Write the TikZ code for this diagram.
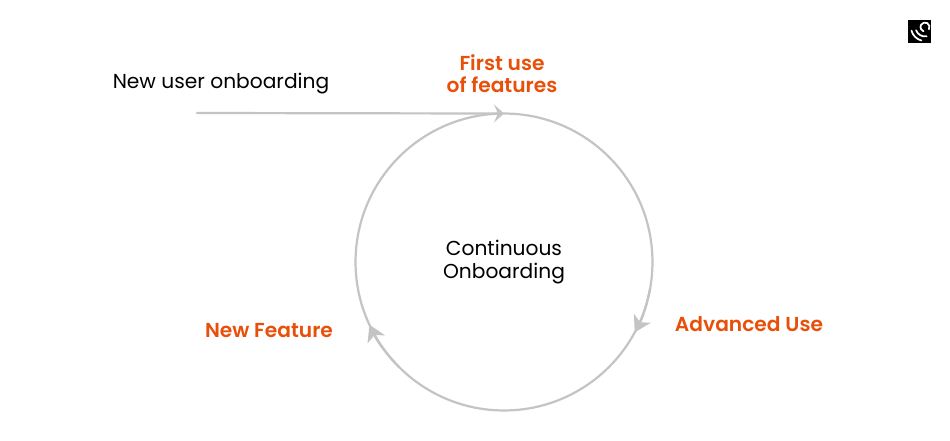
\documentclass[tikz,border=0pt]{standalone}
\usepackage{fontspec}
\setmainfont{Poppins}
\newfontfamily\semifont{Poppins SemiBold}
\usetikzlibrary{arrows.meta}
\definecolor{flowgray}{HTML}{C4C4C4}
\definecolor{labelorange}{HTML}{E8500A}
\tikzset{
  flow/.style={draw=flowgray,line width=1.25pt},
  tiplong/.style={-{Stealth[length=0.32cm,width=0.38cm,inset=0.09cm,fill=flowgray]}},
  tipshort/.style={-{Stealth[length=0.2cm,width=0.36cm,inset=0.08cm,fill=flowgray]}},
  plainlabel/.style={text=black,font=\fontsize{11.5}{13.6}\selectfont,align=center,inner sep=0pt},
  hotlabel/.style={text=labelorange,font=\fontsize{11.5}{12.5}\selectfont\semifont,align=center,inner sep=0pt}
}
\begin{document}
\begin{tikzpicture}[x=0.02cm,y=0.02cm,line join=round,line cap=round]
\useasboundingbox[fill=white] (0,0) rectangle (950,440);
% main loop
\node[circle,flow,minimum size=5.94cm,inner sep=0pt,outer sep=0pt,plainlabel] (loop) at (504,178) {Continuous\\Onboarding};
% entry line
\coordinate (start) at (197,327);
\draw[flow,tipshort] (start)--(loop.90);
% tips on the loop
\draw[flow,tiplong] (loop.-10) arc[start angle=-10,end angle=-28.3,radius=2.97cm];
\draw[flow,tiplong] (loop.225) arc[start angle=225,end angle=205,radius=2.97cm];
% labels
\node[plainlabel] (newuser) at (221,356) {New user onboarding};
\node[hotlabel] (firstuse) at (502,366) {First use\\of features};
\node[hotlabel] (advanced) at (749,116) {Advanced Use};
\node[hotlabel] (newfeature) at (269,109) {New Feature};
% logo
\node[fill=black,minimum size=0.46cm,inner sep=0pt,outer sep=0pt] (logo) at (919.5,408.5) {};
\coordinate (swirl) at (925,413);
\begin{scope}[draw=white,line width=1pt]
\draw (swirl)++(-30:4.5) arc[start angle=-30,end angle=250,radius=0.09cm];
\draw (swirl)++(200:9.5) arc[start angle=200,end angle=280,radius=0.19cm];
\draw (swirl)++(195:14) arc[start angle=195,end angle=255,radius=0.28cm];
\end{scope}
\end{tikzpicture}
\end{document}
